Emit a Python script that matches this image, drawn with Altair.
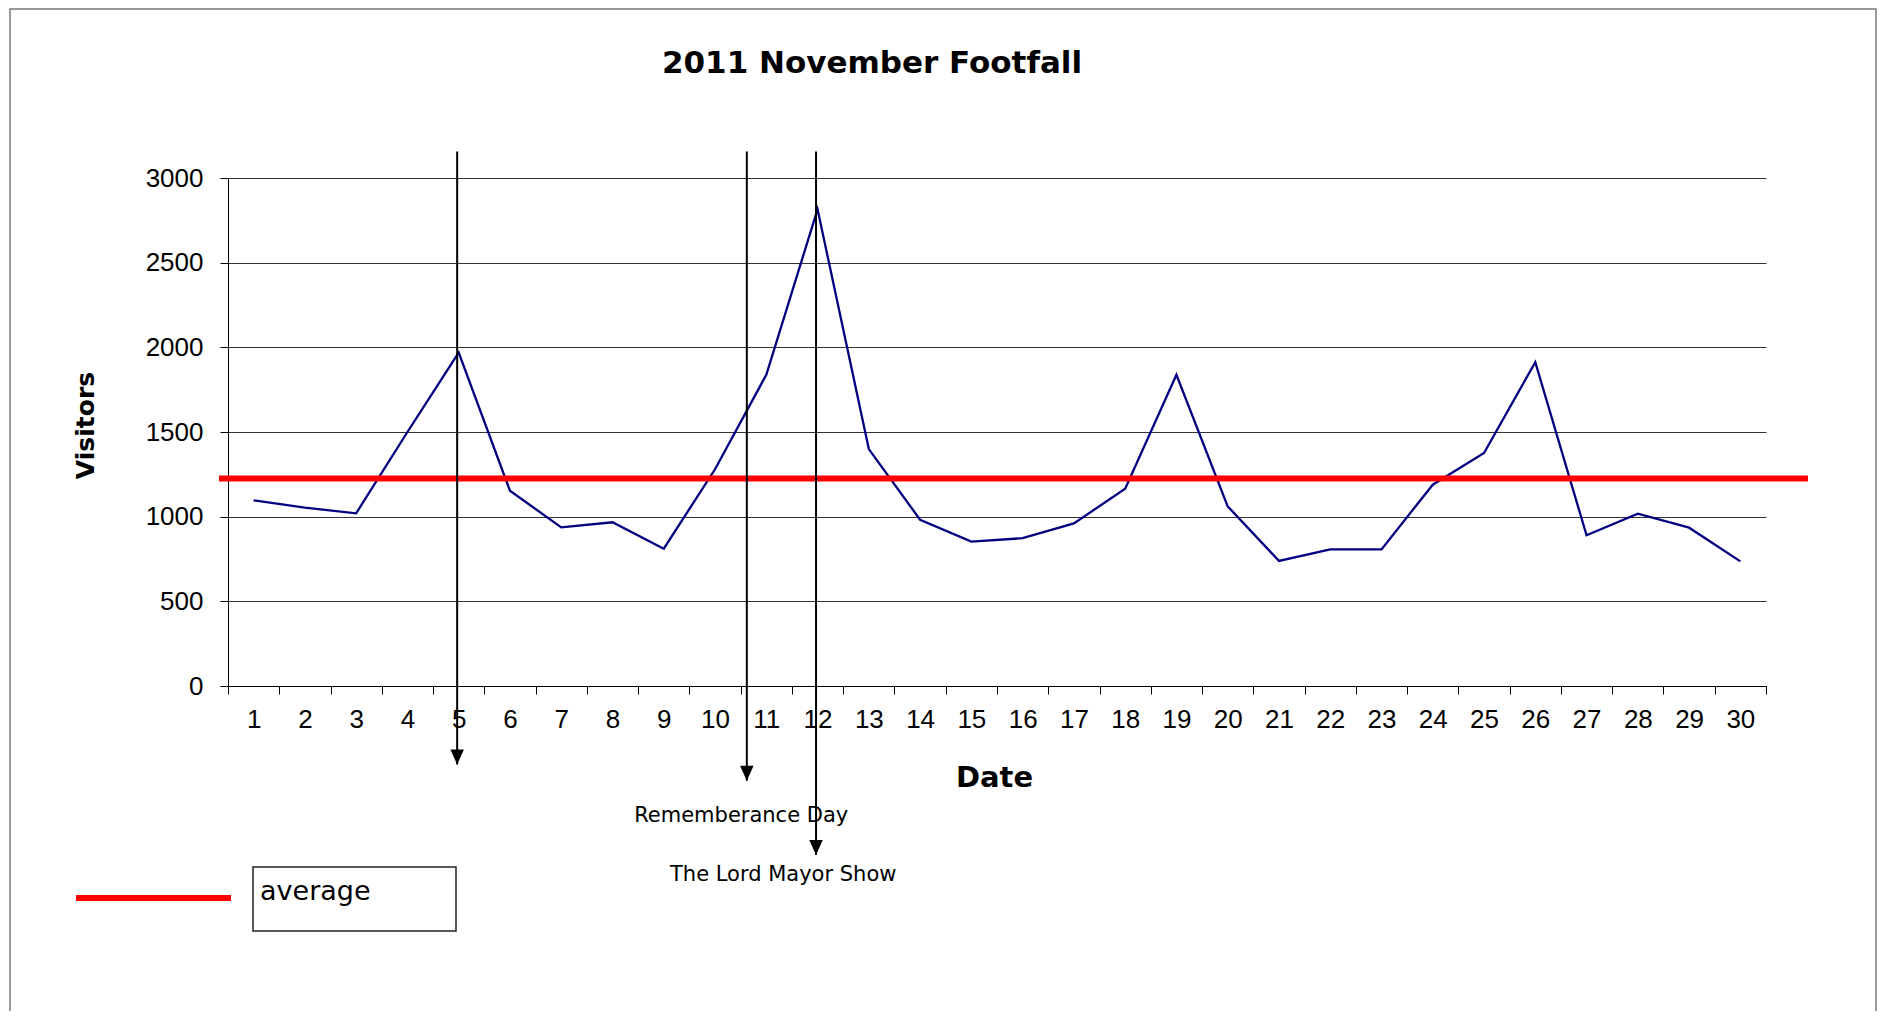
import altair as alt
import pandas as pd

# ---------------- data ----------------
days = list(range(1, 31))
visitors = [1096, 1053, 1020, 1500, 1969, 1153, 937, 967, 811, 1280,
            1838, 2815, 1399, 982, 853, 873, 960, 1165, 1838, 1061,
            739, 807, 807, 1189, 1376, 1913, 890, 1018, 935, 736]
average_visitors = 1226

arrow_days = [4.97, 10.62, 11.97]
arrow_top_values = [3156, 3156, 3156]
arrow_tip_values = [-464, -559, -998]

event_labels = ["Rememberance Day", "The Lord Mayor Show"]
event_label_days = [10.51, 11.33]
event_label_values = [-801, -1152]

y_ticks = [0, 500, 1000, 1500, 2000, 2500, 3000]
x_boundaries = [d - 0.5 for d in days] + [days[-1] + 0.5]

chart_title = "2011 November Footfall"
legend_label = "average"

# ---------------- layout constants ----------------
W, H = 1538, 508
STEP = W / len(days)

main_df = pd.DataFrame({"day": days, "visitors": visitors})
avg_df = pd.DataFrame({"visitors": [average_visitors]})
arrow_df = pd.DataFrame({"day": arrow_days, "visitors": arrow_top_values,
                         "visitors2": arrow_tip_values})
tip_df = pd.DataFrame({"day": arrow_days, "visitors": arrow_tip_values})
label_df = pd.DataFrame({"day": event_label_days, "visitors": event_label_values,
                         "label": event_labels})
one_df = pd.DataFrame({"label": [legend_label]})
title_df = pd.DataFrame({"label": [chart_title]})

FONT_T = "DejaVu Sans"
FONT_L = "Liberation Sans"

x_enc = alt.X("day:Q",
              scale=alt.Scale(domain=[0.5, 30.5], nice=False, zero=False),
              axis=alt.Axis(values=x_boundaries,
                            labelExpr="datum.value < 30 ? format(datum.value + 0.5, 'd') : ''",
                            labelOffset=STEP / 2, labelFlush=False, labelOverlap=False,
                            labelFont=FONT_L, labelFontSize=26, labelColor="black",
                            labelPadding=12, tickSize=8, tickColor="black",
                            domainColor="black", grid=False,
                            title="Date", titleFont=FONT_T, titleFontSize=29,
                            titleFontWeight="bold", titleColor="black",
                            titleX=766, titleY=100, titleBaseline="alphabetic",
                            titleAlign="center"))
y_enc = alt.Y("visitors:Q",
              scale=alt.Scale(domain=[0, 3000], nice=False),
              axis=alt.Axis(values=y_ticks, format="d", grid=True,
                            gridColor="#333333", gridWidth=1,
                            labelFont=FONT_L, labelFontSize=26, labelColor="black",
                            labelPadding=17, tickSize=8, tickColor="black",
                            domainColor="black",
                            title="Visitors", titleFont=FONT_T, titleFontSize=25,
                            titleFontWeight="bold", titleColor="black",
                            titleX=-135, titleY=247, titleBaseline="alphabetic",
                            titleAlign="center"))

frame = alt.Chart(one_df).mark_rect(fillOpacity=0, stroke="#7a7a7a", strokeWidth=1.5).encode(
    x=alt.value(-218), x2=alt.value(1648), y=alt.value(-169), y2=alt.value(900))

line = alt.Chart(main_df).mark_line(color="#000080", strokeWidth=2.3).encode(x=x_enc, y=y_enc)

avg_rule = alt.Chart(avg_df).mark_rule(color="#ff0000", strokeWidth=6, clip=False).encode(
    y="visitors:Q", x=alt.value(-9), x2=alt.value(1580))

arrows = alt.Chart(arrow_df).mark_rule(color="black", strokeWidth=2, clip=False).encode(
    x="day:Q", y="visitors:Q", y2="visitors2:Q")

heads = alt.Chart(tip_df).mark_point(shape="M-0.9,-2L0.9,-2L0,0Z", size=225, filled=True,
                                     color="black", opacity=1, clip=False).encode(
    x="day:Q", y="visitors:Q")

labels = alt.Chart(label_df).mark_text(font=FONT_T, fontSize=21, color="black",
                                       align="center", baseline="alphabetic").encode(
    x="day:Q", y="visitors:Q", text="label:N")

legend_line = alt.Chart(one_df).mark_rule(color="#ff0000", strokeWidth=6).encode(
    x=alt.value(-152), x2=alt.value(3), y=alt.value(720))
legend_box = alt.Chart(one_df).mark_rect(fillOpacity=0, stroke="#222222", strokeWidth=1.5).encode(
    x=alt.value(25), x2=alt.value(228), y=alt.value(689), y2=alt.value(753))
legend_text = alt.Chart(one_df).mark_text(font=FONT_T, fontSize=27, color="black",
                                          align="left", baseline="alphabetic").encode(
    x=alt.value(32), y=alt.value(722), text="label:N")

title = alt.Chart(title_df).mark_text(font=FONT_T, fontSize=31, fontWeight="bold",
                                      color="black", align="center",
                                      baseline="alphabetic").encode(
    x=alt.value(644), y=alt.value(-105), text="label:N")

chart = alt.layer(frame, line, avg_rule, arrows, heads, labels,
                  legend_line, legend_box, legend_text, title).properties(
    width=W, height=H,
    padding={"left": 220, "top": 170, "right": 111, "bottom": 325},
    autosize=alt.AutoSizeParams(type="none"),
    background="white",
).configure_view(strokeWidth=0)

chart.save("out.html", embed_options={"renderer": "svg", "actions": False})
